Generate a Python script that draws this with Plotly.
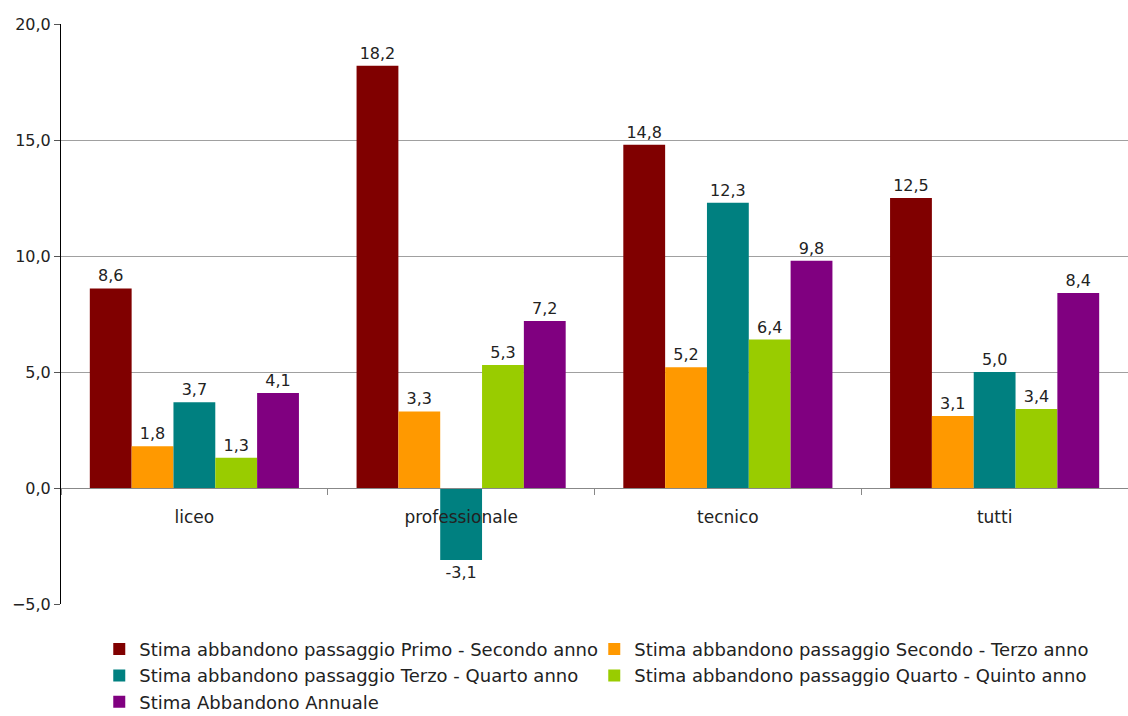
import plotly.graph_objects as go

categories = ["liceo", "professionale", "tecnico", "tutti"]

series_names = [
    "Stima abbandono passaggio Primo - Secondo anno",
    "Stima abbandono passaggio Secondo - Terzo anno",
    "Stima abbandono passaggio Terzo - Quarto anno",
    "Stima abbandono passaggio Quarto - Quinto anno",
    "Stima Abbandono Annuale",
]

primo_secondo = [8.6, 18.2, 14.8, 12.5]
secondo_terzo = [1.8, 3.3, 5.2, 3.1]
terzo_quarto = [3.7, -3.1, 12.3, 5.0]
quarto_quinto = [1.3, 5.3, 6.4, 3.4]
annuale = [4.1, 7.2, 9.8, 8.4]

series_values = [primo_secondo, secondo_terzo, terzo_quarto, quarto_quinto, annuale]
colors = ["#800000", "#FF9900", "#008080", "#99CC00", "#800080"]

y_ticks = [-5, 0, 5, 10, 15, 20]

FONT = "DejaVu Sans"
TXT = "#222222"

fig = go.Figure()
for name, vals, col in zip(series_names, series_values, colors):
    fig.add_trace(go.Bar(
        x=categories,
        y=vals,
        name=name,
        marker=dict(color=col, line=dict(width=0)),
        text=vals,
        texttemplate="%{y:.1f}",
        textposition="outside",
        textfont=dict(family=FONT, size=16, color=TXT),
        cliponaxis=False,
    ))

fig.update_layout(
    width=1128,
    height=716,
    separators=",.",
    barmode="group",
    bargap=0.216,
    bargroupgap=0,
    plot_bgcolor="white",
    paper_bgcolor="white",
    font=dict(family=FONT, size=16, color=TXT),
    margin=dict(l=61, r=0, t=24, b=112, autoexpand=False),
    showlegend=True,
    legend=dict(
        orientation="h",
        xref="container",
        yref="container",
        x=0.088,
        y=0.119,
        xanchor="left",
        yanchor="top",
        entrywidth=450,
        entrywidthmode="pixels",
        font=dict(family=FONT, size=18, color=TXT),
        tracegroupgap=0,
        traceorder="normal",
    ),
)

fig.update_xaxes(
    type="category",
    anchor="free",
    position=0.2,
    showline=True,
    linecolor="#888888",
    linewidth=1,
    ticks="outside",
    tickson="boundaries",
    ticklen=6,
    tickcolor="#888888",
    ticklabelstandoff=14,
    showgrid=False,
    tickfont=dict(family=FONT, size=17, color=TXT),
)

fig.update_yaxes(
    range=[-5, 20],
    tickvals=y_ticks,
    tickformat=".1f",
    showgrid=True,
    gridcolor="#a0a0a0",
    gridwidth=1,
    zeroline=False,
    showline=True,
    linecolor="#000000",
    linewidth=1,
    ticks="outside",
    ticklen=6,
    tickcolor="#555555",
    tickfont=dict(family=FONT, size=16, color=TXT),
)

fig.write_html("out.html")
